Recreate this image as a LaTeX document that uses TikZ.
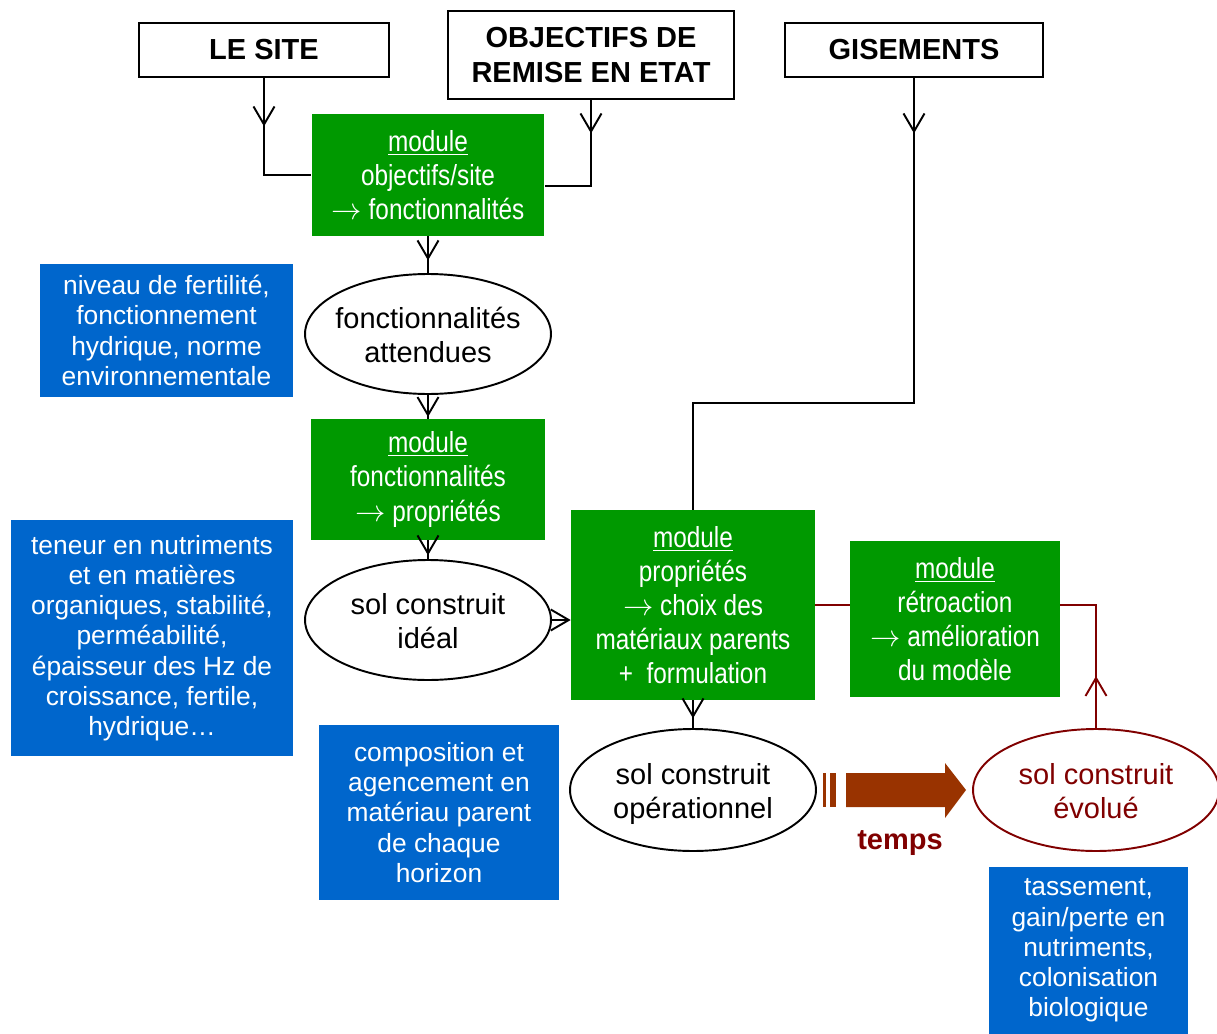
\documentclass[tikz,border=0pt]{standalone}
\usepackage{fontspec}
\setmainfont{Liberation Sans}
\newfontfamily\narrowfont{Liberation Sans}[FakeStretch=0.84]
\usetikzlibrary{shapes.geometric,arrows.meta,decorations.markings}
\definecolor{modgreen}{RGB}{0,153,0}
\definecolor{noteblue}{RGB}{0,102,204}
\definecolor{retrored}{RGB}{128,0,0}
\definecolor{tempsbrown}{RGB}{153,51,0}
\newcommand{\ellipsetext}[1]{\makebox[0pt]{\raisebox{-2.9pt}[\height][\depth]{\begin{tabular}{@{}c@{}}#1\end{tabular}}}}
\newcommand{\fleche}{$\rightarrow$}

\begin{document}
\begin{tikzpicture}[
    x=0.02cm, y=-0.02cm,
    every node/.style={inner sep=0pt, align=center},
    titlebox/.style={draw, line width=1.6pt, font=\bfseries\fontsize{16.5}{19.4}\selectfont},
    module/.style={fill=modgreen, text=white, font=\narrowfont\fontsize{16.5}{19.4}\selectfont},
    state/.style={ellipse, draw, line width=1.1pt, minimum width=4.92cm, minimum height=2.4cm, font=\fontsize{16.5}{19.4}\selectfont},
    note/.style={fill=noteblue, text=white, font=\fontsize{15}{17.2}\selectfont},
    conn/.style={line width=1.1pt},
    barb/.style={-{Straight Barb[length=0.36cm, width=0.42cm]}},
    midarrow/.style={postaction={decorate}, decoration={markings, mark=at position #1 with {\arrow{Straight Barb[length=0.36cm, width=0.42cm]}}}}
]
\useasboundingbox (0,0) rectangle (1217,1034);

\node[titlebox, minimum width=5cm, minimum height=1.08cm] (site) at (264,50) {LE SITE};
\node[titlebox, minimum width=5.72cm, minimum height=1.76cm] (obj) at (591,55) {OBJECTIFS DE\\REMISE EN ETAT};
\node[titlebox, minimum width=5.16cm, minimum height=1.08cm] (gis) at (914,50) {GISEMENTS};

\node[module, minimum width=4.66cm, minimum height=2.44cm] (mobj) at (428,175) {\underline{module}\\objectifs/site\\\fleche{} fonctionnalités};
\node[state] (attendu) at (428,334) {\ellipsetext{fonctionnalités\\attendues}};
\node[module, minimum width=4.7cm, minimum height=2.42cm] (mfonc) at (428,479.5) {\underline{module}\\fonctionnalités\\\fleche{} propriétés};
\node[state] (ideal) at (428,620) {\ellipsetext{sol construit\\idéal}};
\node[module, minimum width=4.88cm, minimum height=3.8cm] (mprop) at (693,605) {\underline{module}\\propriétés\\\fleche{} choix des\\matériaux parents\\+\ \ formulation};
\node[state, minimum height=2.44cm] (oper) at (693,790) {\ellipsetext{sol construit\\opérationnel}};
\node[module, minimum width=4.2cm, minimum height=3.12cm] (mretro) at (955,619) {\underline{module}\\rétroaction\\\fleche{} amélioration\\du modèle};
\node[state, minimum height=2.44cm, draw=retrored, text=retrored] (evol) at (1096,790) {\ellipsetext{sol construit\\évolué}};

\node[note, minimum width=5.06cm, minimum height=2.66cm] (fertil) at (166.5,330.5) {niveau de fertilité,\\fonctionnement\\hydrique, norme\\environnementale};
\node[note, minimum width=5.64cm, minimum height=4.72cm] (teneur) at (152,638) {teneur en nutriments\\et en matières\\organiques, stabilité,\\perméabilité,\\épaisseur des Hz de\\croissance, fertile,\\hydrique…};
\node[note, minimum width=4.8cm, minimum height=3.5cm] (compo) at (439,812.5) {composition et\\agencement en\\matériau parent\\de chaque\\horizon};
\node[note, minimum width=3.98cm, minimum height=3.34cm] (tasse) at (1088.5,950.5) {tassement,\\gain/perte en\\nutriments,\\colonisation\\biologique};

\coordinate (gbend) at (914,403);

\draw[conn, midarrow=0.96cm] (site.south) |- (mobj.west);
\draw[conn, midarrow=0.66cm] (obj.south) |- ([yshift=-0.22cm]mobj.east);
\draw[conn, midarrow=0.48cm] (mobj.south) -- (attendu.north);
\draw[conn, midarrow=0.44cm] (attendu.south) -- (mfonc.north);
\draw[conn, midarrow=0.3cm] (mfonc.south) -- (ideal.north);
\draw[conn, barb] (ideal.east) -- (ideal.east -| mprop.west);
\draw[conn, midarrow=1.1cm] (gis.south) -- (gbend) -| (mprop.north);
\draw[conn, midarrow=0.36cm] (mprop.south) -- (oper.north);

\draw[conn, retrored] (mprop.east) -- (mprop.east -| mretro.west);
\draw[conn, retrored, midarrow=1.04cm] (evol.north) |- (mretro.east |- mprop.east);

% fleche du temps
\fill[tempsbrown] (823,773) rectangle (826,807);
\fill[tempsbrown] (830,773) rectangle (836,807);
\fill[tempsbrown] (846,773) -- (945,773) -- (945,763) -- (966,790) -- (945,818) -- (945,807) -- (846,807) -- cycle;
\node[font=\bfseries\fontsize{16.5}{19.4}\selectfont, text=retrored] (temps) at (900,843) {temps};
\end{tikzpicture}
\end{document}
